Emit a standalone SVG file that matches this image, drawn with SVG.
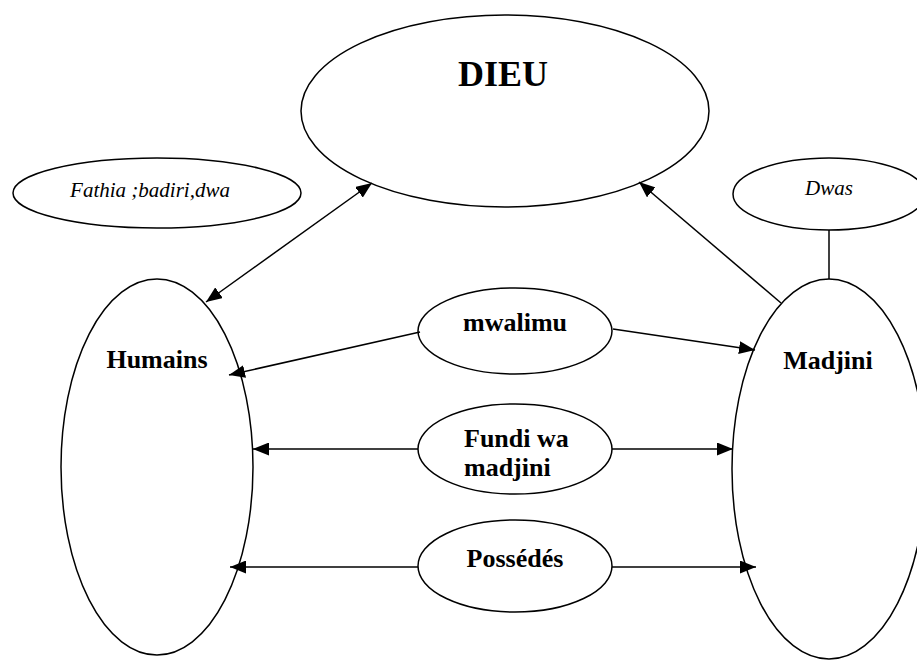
<svg xmlns="http://www.w3.org/2000/svg" width="917" height="660" viewBox="0 0 917 660">
<style>
.n{fill:#fff;stroke:#000;stroke-width:1.5}
.b{font-family:"Liberation Serif","Times New Roman",serif;font-weight:bold;font-size:26px;fill:#000}
.i{font-family:"Liberation Serif","Times New Roman",serif;font-style:italic;font-size:21px;fill:#000}
.c line{stroke:#000;stroke-width:1.5}
</style>
<defs>
<marker id="ah" viewBox="0 0 16 13" refX="16" refY="6.5" markerWidth="16" markerHeight="13" markerUnits="userSpaceOnUse" orient="auto-start-reverse">
<path d="M0,0 L16,6.5 L0,13 Z" fill="#000"/>
</marker>
</defs>
<rect width="917" height="660" fill="#fff"/>
<g id="dieu"><ellipse class="n" cx="505" cy="111" rx="204" ry="96"/><text class="b" x="503" y="86" text-anchor="middle" style="font-size:36px">DIEU</text></g>
<g id="fathia"><ellipse class="n" cx="157" cy="193" rx="144" ry="35"/><text class="i" x="150" y="197" text-anchor="middle">Fathia ;badiri,dwa</text></g>
<g id="dwas"><ellipse class="n" cx="829" cy="194" rx="96" ry="36"/><text class="i" x="829" y="195" text-anchor="middle">Dwas</text></g>
<g id="humains"><ellipse class="n" cx="157" cy="467" rx="96" ry="188"/><text class="b" x="157" y="368" text-anchor="middle">Humains</text></g>
<g id="madjini"><ellipse class="n" cx="829" cy="469" rx="97" ry="190"/><text class="b" x="828" y="369" text-anchor="middle">Madjini</text></g>
<g id="mwalimu"><ellipse class="n" cx="515" cy="331" rx="97" ry="43"/><text class="b" x="515" y="331" text-anchor="middle">mwalimu</text></g>
<g id="fundi"><ellipse class="n" cx="515" cy="449" rx="97" ry="45"/><text class="b" x="464" y="447">Fundi wa</text><text class="b" x="464" y="476">madjini</text></g>
<g id="possedes"><ellipse class="n" cx="515" cy="566" rx="97" ry="46"/><text class="b" x="515" y="567" text-anchor="middle">Possédés</text></g>
<g id="connectors" class="c">
<line x1="206" y1="302" x2="372" y2="183" marker-start="url(#ah)" marker-end="url(#ah)"/>
<line x1="781" y1="303" x2="639" y2="182" marker-end="url(#ah)"/>
<line x1="829" y1="230" x2="829" y2="279"/>
<line x1="420" y1="332" x2="229" y2="375" marker-end="url(#ah)"/>
<line x1="613" y1="329" x2="755" y2="350" marker-end="url(#ah)"/>
<line x1="418" y1="449" x2="253" y2="449" marker-end="url(#ah)"/>
<line x1="612" y1="449" x2="733" y2="449" marker-end="url(#ah)"/>
<line x1="418" y1="567" x2="230" y2="567" marker-end="url(#ah)"/>
<line x1="612" y1="567" x2="756" y2="567" marker-end="url(#ah)"/>
</g>
</svg>
